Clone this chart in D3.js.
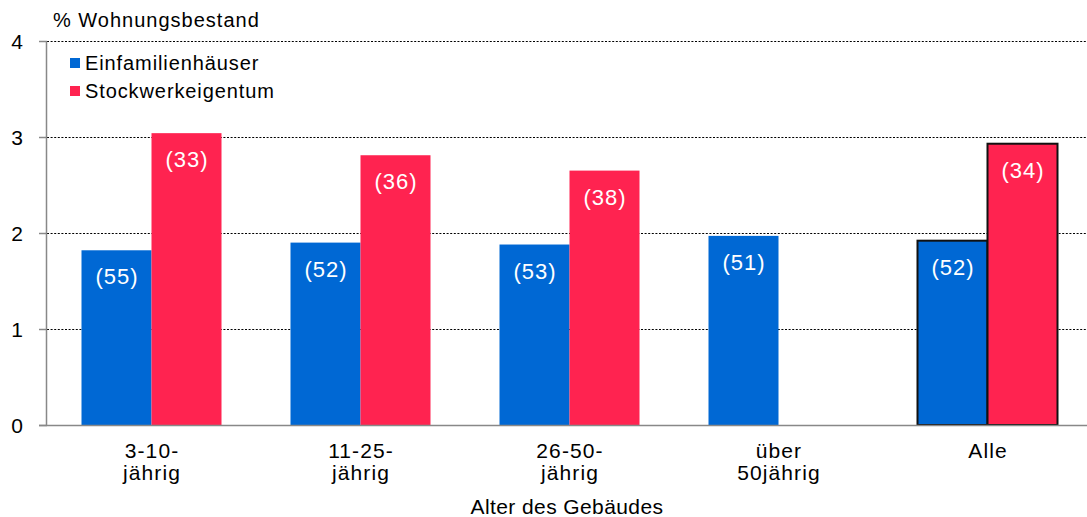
<!DOCTYPE html>
<html>
<head>
<meta charset="utf-8">
<script src="https://cdn.jsdelivr.net/npm/d3@7"></script>
<style>
  html, body { margin: 0; padding: 0; background: #fff; }
  svg { display: block; font-family: "Liberation Sans", Arial, sans-serif; }
</style>
</head>
<body>
<svg id="chart" width="1087" height="517"></svg>
<script>
// Building age groups (two-line tick labels)
const categories = [["3-10-", "jährig"], ["11-25-", "jährig"], ["26-50-", "jährig"], ["über", "50jährig"], ["Alle"]];
const seriesNames = ["Einfamilienhäuser", "Stockwerkeigentum"];
// Share of housing stock (%)
const einfamilien = [1.82, 1.90, 1.88, 1.97, 1.92];
const stockwerk = [3.04, 2.81, 2.65, null, 2.93];
// Sample counts shown inside the bars
const einfamilienN = [55, 52, 53, 51, 52];
const stockwerkN = [33, 36, 38, null, 34];
const yTicks = [0, 1, 2, 3, 4];
const colors = ["#0068d4", "#ff2350"];

const svg = d3.select("#chart");
const plotLeft = 47, plotRight = 1092, plotTop = 41, plotBottom = 425;

const x = d3.scaleBand().domain(d3.range(categories.length)).range([plotLeft, plotRight]).padding(0);
const y = d3.scaleLinear().domain([0, 4]).range([plotBottom, plotTop]);
const barW = 70;

// Dotted gridlines
svg.append("g").selectAll("line").data(yTicks.filter(d => d > 0)).join("line")
  .attr("x1", plotLeft).attr("x2", 1087)
  .attr("y1", d => y(d) + 0.5).attr("y2", d => y(d) + 0.5)
  .attr("stroke", "#000").attr("stroke-width", 1.2).attr("stroke-dasharray", "2,1.6");

const series = [
  { values: einfamilien, counts: einfamilienN, offset: -barW, color: colors[0] },
  { values: stockwerk, counts: stockwerkN, offset: 0, color: colors[1] }
];

const lastIdx = categories.length - 1;
series.forEach(s => {
  const g = svg.append("g");
  const data = s.values.map((v, i) => ({ v, i, n: s.counts[i] })).filter(d => d.v != null);
  g.selectAll("rect").data(data).join("rect")
    .attr("x", d => x(d.i) + x.bandwidth() / 2 + s.offset)
    .attr("y", d => y(d.v))
    .attr("width", barW)
    .attr("height", d => y(0) - y(d.v))
    .attr("fill", s.color)
    .attr("stroke", d => d.i === lastIdx ? "#111" : "none")
    .attr("stroke-width", 2);
  g.selectAll("text").data(data).join("text")
    .attr("x", d => x(d.i) + x.bandwidth() / 2 + s.offset + barW / 2 + 0.5)
    .attr("y", d => y(d.v) + 34)
    .attr("text-anchor", "middle")
    .attr("fill", "#fff")
    .attr("font-size", 22)
    .attr("letter-spacing", 1)
    .text(d => `(${d.n})`);
});

// Y axis
const yAxis = svg.append("g");
yAxis.append("line").attr("x1", plotLeft - 0.5).attr("x2", plotLeft - 0.5).attr("y1", plotTop).attr("y2", plotBottom)
  .attr("stroke", "#888").attr("stroke-width", 1.5);
yAxis.selectAll("line.tick").data(yTicks).join("line").attr("class", "tick")
  .attr("x1", plotLeft - 8).attr("x2", plotLeft).attr("y1", d => y(d) + 0.5).attr("y2", d => y(d) + 0.5)
  .attr("stroke", "#888").attr("stroke-width", 1.5);
yAxis.selectAll("text").data(yTicks).join("text")
  .attr("x", 23).attr("y", d => y(d) + 7.5)
  .attr("text-anchor", "end").attr("font-size", 21).attr("fill", "#000")
  .text(d => d);

// X axis line
svg.append("line").attr("x1", plotLeft - 8).attr("x2", 1087).attr("y1", plotBottom + 0.5).attr("y2", plotBottom + 0.5)
  .attr("stroke", "#888").attr("stroke-width", 1.5);

// Category labels
const xl = svg.append("g");
categories.forEach((lines, i) => {
  const t = xl.append("text").attr("text-anchor", "middle").attr("font-size", 21)
    .attr("letter-spacing", 1.1).attr("fill", "#000");
  lines.forEach((ln, k) => {
    t.append("tspan").attr("x", x(i) + x.bandwidth() / 2 + 0.5).attr("y", 458 + k * 21.5).text(ln);
  });
});

// Axis titles
svg.append("text").attr("x", 567).attr("y", 514).attr("text-anchor", "middle")
  .attr("font-size", 21).attr("letter-spacing", 0.4).attr("fill", "#000").text("Alter des Gebäudes");
svg.append("text").attr("x", 53).attr("y", 27)
  .attr("font-size", 20).attr("letter-spacing", 1).attr("fill", "#000").text("% Wohnungsbestand");

// Legend
const leg = svg.append("g");
seriesNames.forEach((name, i) => {
  leg.append("rect").attr("x", 70).attr("y", 58 + i * 28).attr("width", 10).attr("height", 10).attr("fill", colors[i]);
  leg.append("text").attr("x", 85).attr("y", 70 + i * 27.5).attr("font-size", 20)
    .attr("letter-spacing", 0.9).attr("fill", "#000").text(name);
});
</script>
</body>
</html>
